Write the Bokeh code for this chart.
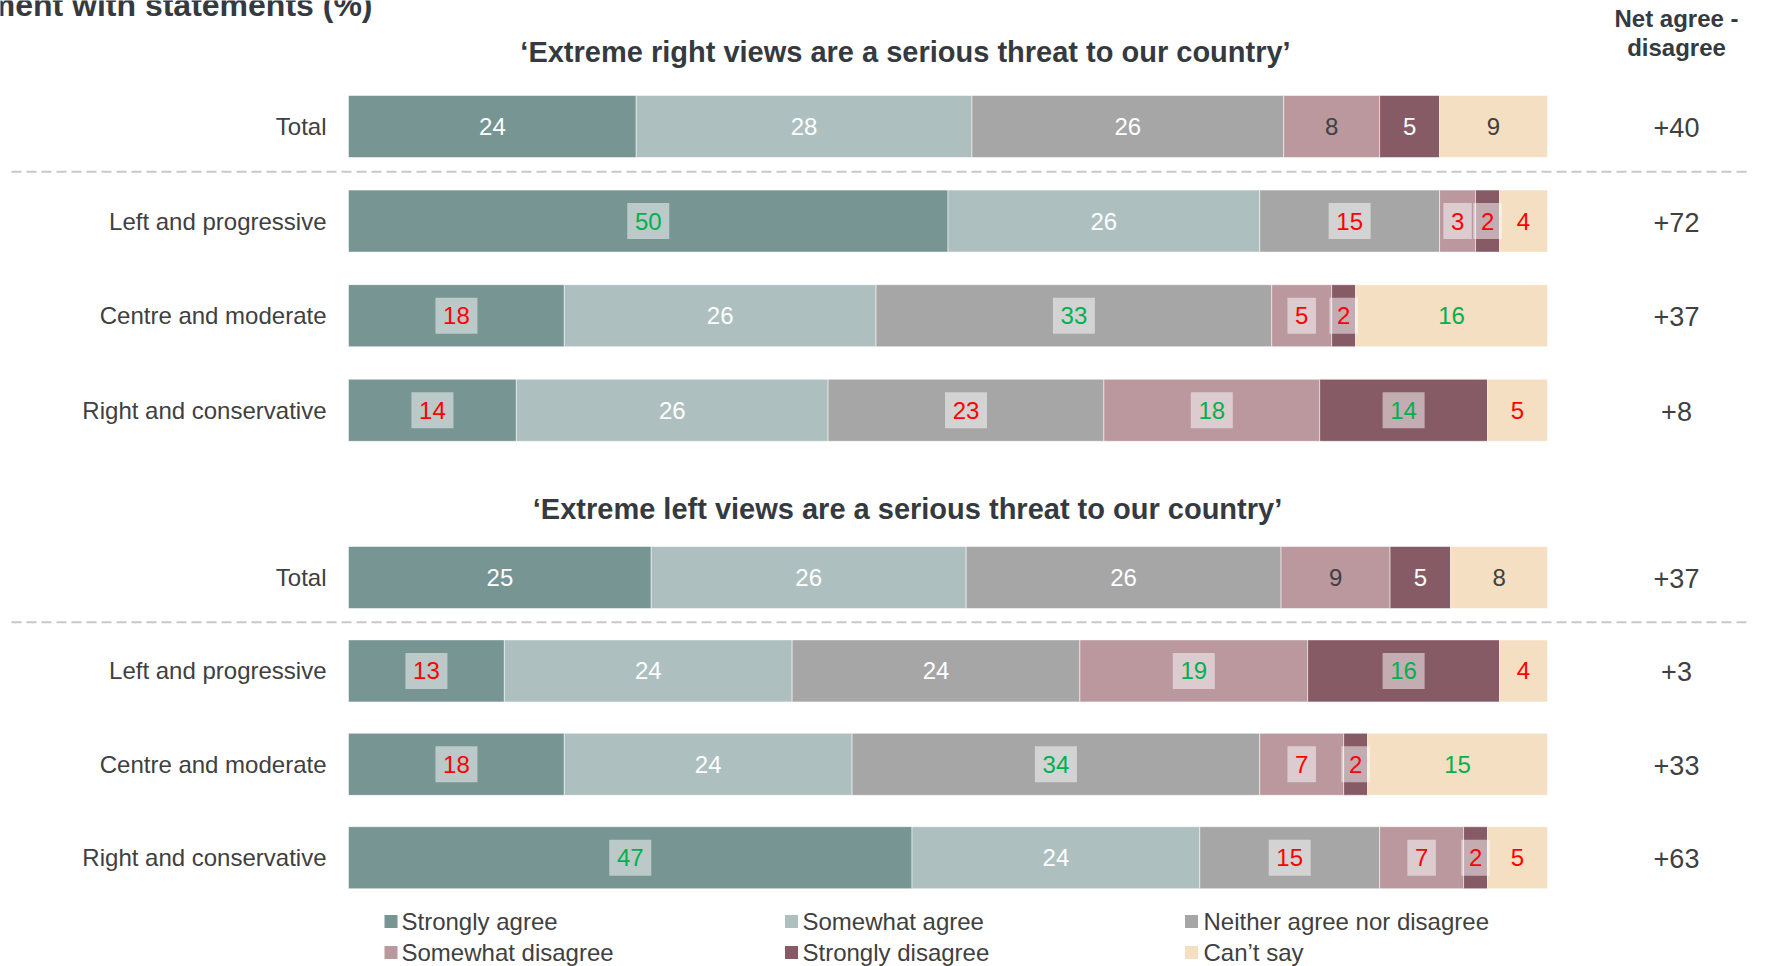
from bokeh.plotting import figure
from bokeh.models import Range1d, ColumnDataSource
from bokeh.core.properties import value
from bokeh.embed import file_html
from bokeh.resources import INLINE

# ---------------- data ----------------
categories = ["Strongly agree", "Somewhat agree", "Neither agree nor disagree",
              "Somewhat disagree", "Strongly disagree", "Can\u2019t say"]
colors = ["#769593", "#ADBFBE", "#A6A6A6", "#BA989E", "#875B66", "#F5DFC2"]
groups = ["Total", "Left and progressive", "Centre and moderate", "Right and conservative"]
statements = ["\u2018Extreme right views are a serious threat to our country\u2019",
              "\u2018Extreme left views are a serious threat to our country\u2019"]

right_total = [24, 28, 26, 8, 5, 9]
right_left = [50, 26, 15, 3, 2, 4]
right_centre = [18, 26, 33, 5, 2, 16]
right_right = [14, 26, 23, 18, 14, 5]

left_total = [25, 26, 26, 9, 5, 8]
left_left = [13, 24, 24, 19, 16, 4]
left_centre = [18, 24, 34, 7, 2, 15]
left_right = [47, 24, 15, 7, 2, 5]

# label style: w white, d dark, r red boxed, g green boxed, R red plain, G green plain
right_marks = ["wwwdwd", "gwrrrR", "rwgrrG", "rwrggR"]
left_marks = ["wwwdwd", "rwwggR", "rwgrrG", "gwrrrR"]

right_net = ["+40", "+72", "+37", "+8"]
left_net = ["+37", "+3", "+33", "+63"]

main_title = "Agreement with statements (%)"
net_header = ["Net agree -", "disagree"]

# ---------------- layout ----------------
W, H = 1751, 966
X0 = 348.0          # pixel of 0 %
PX = 11.99          # pixels per percent
BAR_H = 62
STEPS = [94.6, 93.4]
BASES = [126, 577]
TITLE_Y = [51, 508]
FONT = value("Liberation Sans")
DARK = "#404040"
TITLE_C = "#353a40"


def dx(px):
    return (px - X0) / PX


p = figure(width=W, height=H, output_backend="svg", toolbar_location=None,
           x_range=Range1d(dx(0), dx(W)), y_range=Range1d(H, 0),
           min_border=0, outline_line_color=None)
p.xaxis.visible = False
p.yaxis.visible = False
p.grid.visible = False
p.background_fill_color = "white"
p.border_fill_color = "white"

blocks = [
    ([right_total, right_left, right_centre, right_right], right_marks, right_net),
    ([left_total, left_left, left_centre, left_right], left_marks, left_net),
]

bars = dict(left=[], right=[], y=[], color=[])
lab = dict(x=[], y=[], text=[], color=[])
box = dict(x=[], y=[], w=[])
rows = dict(x=[], y=[], text=[])
nets = dict(x=[], y=[], text=[])
seps = []

for b, (vals, marks, net) in enumerate(blocks):
    for i, row in enumerate(vals):
        y = BASES[b] + i * STEPS[b]
        tot = float(sum(row))
        cum = 0.0
        for j, v in enumerate(row):
            l = cum / tot * 100
            cum += v
            r = cum / tot * 100
            bars["left"].append(l)
            bars["right"].append(r)
            bars["y"].append(y)
            bars["color"].append(colors[j])
            m = marks[i][j]
            c = {"w": "white", "d": DARK, "r": "#FF0000", "R": "#FF0000",
                 "g": "#00B050", "G": "#00B050"}[m]
            lab["x"].append((l + r) / 2)
            lab["y"].append(y)
            lab["text"].append(str(v))
            lab["color"].append(c)
            if m in "rg":
                box["x"].append((l + r) / 2)
                box["y"].append(y)
                box["w"].append(15 + 13.5 * len(str(v)))
        rows["x"].append(dx(326))
        rows["y"].append(y)
        rows["text"].append(groups[i])
        nets["x"].append(dx(1676))
        nets["y"].append(y + 1)
        nets["text"].append(net[i])
    seps.append(BASES[b] + STEPS[b] / 2 - 2)

p.hbar(y="y", left="left", right="right", height=BAR_H, color="color",
       line_color="white", line_alpha=0.5, line_width=1,
       source=ColumnDataSource(bars))

# dashed separators
for s in seps:
    p.line(x=[dx(11), dx(W)], y=[s, s], line_color="#C8C8C8", line_width=2,
           line_dash="10 5")

p.rect(x="x", y="y", width="w", height=36, width_units="screen",
       height_units="screen", fill_color="white", fill_alpha=0.5,
       line_color=None, source=ColumnDataSource(box))

p.text(x="x", y="y", text="text", text_color="color", text_font=FONT,
       text_font_size="24px", text_align="center", text_baseline="middle",
       source=ColumnDataSource(lab))

p.text(x="x", y="y", text="text", text_color=DARK, text_font=FONT,
       text_font_size="24px", text_align="right", text_baseline="middle",
       source=ColumnDataSource(rows))

p.text(x="x", y="y", text="text", text_color=DARK, text_font=FONT,
       text_font_size="27px", text_align="center", text_baseline="middle",
       source=ColumnDataSource(nets))

# statement titles
p.text(x=[dx(905), dx(907)], y=TITLE_Y, text=statements, text_color=TITLE_C,
       text_font=FONT, text_font_size="29px", text_font_style="bold",
       text_align="center", text_baseline="middle")

# net header
p.text(x=[dx(1676), dx(1676)], y=[18, 47], text=net_header, text_color=TITLE_C,
       text_font=FONT, text_font_size="24px", text_font_style="bold",
       text_align="center", text_baseline="middle")

# main title (cropped at the top, as in the source image)
p.text(x=[dx(372)], y=[4], text=[main_title], text_color=TITLE_C,
       text_font=FONT, text_font_size="32px", text_font_style="bold",
       text_align="right", text_baseline="alphabetic")

# legend
leg_sq_x = [390.5, 791, 1191]
leg_tx_x = [401, 802, 1203]
leg_y = [921, 952]
lx, ly, lc, tx, ty, tt = [], [], [], [], [], []
for k, cat in enumerate(categories):
    r_, c_ = divmod(k, 3)
    lx.append(dx(leg_sq_x[c_]))
    ly.append(leg_y[r_])
    lc.append(colors[k])
    tx.append(dx(leg_tx_x[c_]))
    ty.append(leg_y[r_])
    tt.append(cat)
p.rect(x=lx, y=ly, width=13, height=13, width_units="screen",
       height_units="screen", fill_color=lc, line_color=None)
p.text(x=tx, y=ty, text=tt, text_color=DARK, text_font=FONT,
       text_font_size="24px", text_align="left", text_baseline="middle")

open("out.html", "w").write(file_html(p, INLINE))
